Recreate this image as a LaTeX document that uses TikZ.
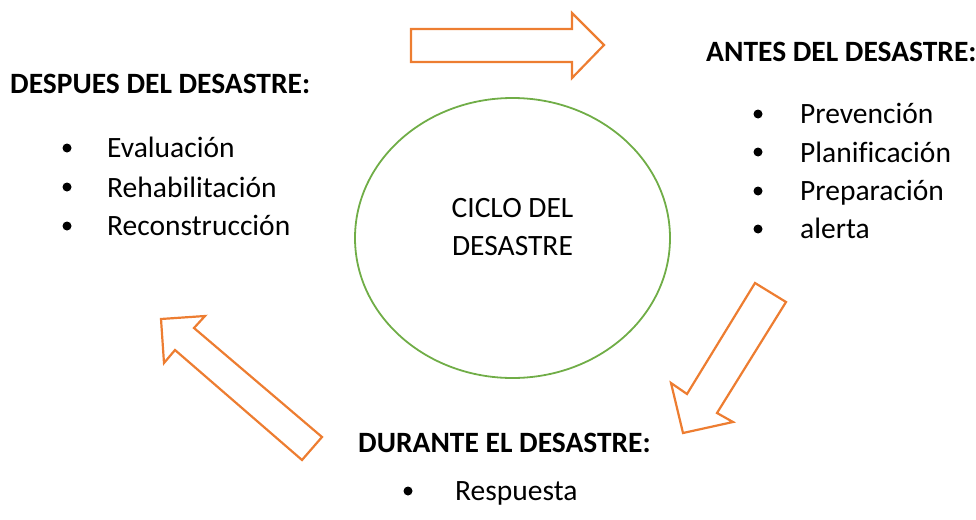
\documentclass[tikz,border=0pt]{standalone}
\usepackage{fontspec}
\setmainfont[Ligatures={NoCommon}]{Carlito}
\usepackage{xcolor}
\usepackage{tikz}
\usetikzlibrary{shapes.geometric}

\definecolor{naranja}{RGB}{237,125,49}
\definecolor{verde}{RGB}{112,173,71}

\begin{document}
\begin{tikzpicture}[x=1pt,y=-1pt,
        every node/.style={font=\fontsize{29.5}{38}\selectfont, inner sep=0pt},
        titulo/.style={font=\fontsize{29.5}{38}\selectfont\bfseries, anchor=base west},
        item/.style={anchor=base west},
        punto/.style={circle, fill=black, minimum size=9pt},
        flecha/.style={draw=naranja, line width=2.2pt, line join=miter}]
        \useasboundingbox (0,0) rectangle (976,519);

        % centro
        \node[draw=verde, line width=1.8pt, ellipse, minimum width=315pt,
              minimum height=280pt] (ciclo) at (512.5,238) {};
        \node[align=center, anchor=base] (cicloTxt) at (512.5,255) {CICLO DEL\\DESASTRE};

        % antes
        \node[titulo] (antes) at (706,62) {ANTES DEL DESASTRE:};
        \node[punto] (a1) at (758,114) {};
        \node[item] (prev) at (800,123) {Prevención};
        \node[punto] (a2) at (758,152) {};
        \node[item] (plan) at (800,162) {Planificación};
        \node[punto] (a3) at (758,191) {};
        \node[item] (prep) at (800,200) {Preparación};
        \node[punto] (a4) at (758,229) {};
        \node[item] (alerta) at (800,238) {alerta};

        % durante
        \node[titulo] (durante) at (358,452) {DURANTE EL DESASTRE:};
        \node[punto] (d1) at (408,491) {};
        \node[item] (resp) at (455,500) {Respuesta};

        % despues
        \node[titulo] (despues) at (10,93) {DESPUES DEL DESASTRE:};
        \node[punto] (p1) at (67,148) {};
        \node[item] (eval) at (107,157) {Evaluación};
        \node[punto] (p2) at (67,187) {};
        \node[item] (rehab) at (107,197) {Rehabilitación};
        \node[punto] (p3) at (67,226) {};
        \node[item] (recon) at (107,235) {Reconstrucción};

        % flechas del ciclo
        \draw[flecha] (411,29) -- (572,29) -- (572,13) -- (604,45) -- (572,78)
            -- (572,62) -- (411,62) -- cycle;
        \draw[flecha] (755,283) -- (786,302) -- (717,413) -- (733,422) -- (683,433)
            -- (671,383) -- (687,394) -- cycle;
        \draw[flecha] (322,437) -- (302,460) -- (175,350) -- (164,363) -- (161,319)
            -- (205,316) -- (194,328) -- cycle;
\end{tikzpicture}
\end{document}
